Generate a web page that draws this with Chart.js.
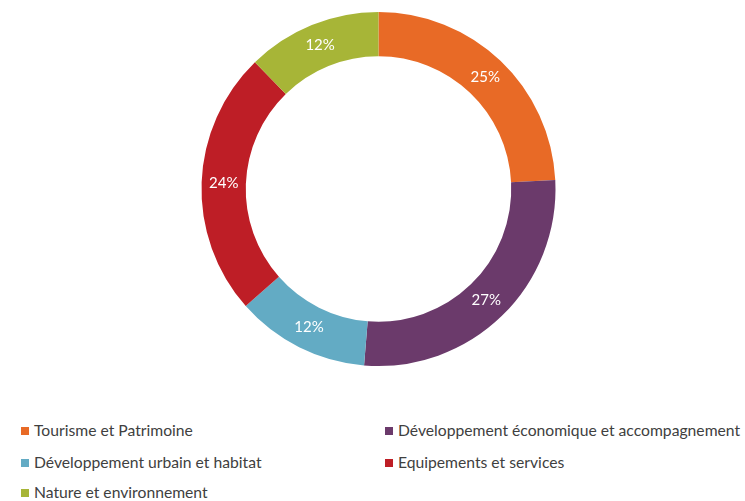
<!DOCTYPE html>
<html>
<head>
<meta charset="utf-8">
<script src="https://cdn.jsdelivr.net/npm/chart.js@4/dist/chart.umd.min.js"></script>
<style>
  body { margin: 0; background: #fff; width: 745px; height: 501px; overflow: hidden; }
  #wrap { position: absolute; left: 0; top: 0; width: 745px; height: 378px; }
  .leg { position: absolute; font-family: Lato, "Open Sans", sans-serif; font-size: 15.7px; color: #404040; white-space: nowrap; }
  .leg span.box { display: inline-block; width: 8px; height: 8px; margin-right: 5px; vertical-align: 1px; }
</style>
</head>
<body>
<div id="wrap"><canvas id="chart"></canvas></div>
<div id="legend"></div>
<script>
var categories = ["Tourisme et Patrimoine", "Développement économique et accompagnement", "Développement urbain et habitat", "Equipements et services", "Nature et environnement"];
// slice shares as drawn, and the percent text shown on each slice
var values = [24.2, 27.1, 12.2, 24.2, 12.3];
var pctLabels = ["25%", "27%", "12%", "24%", "12%"];
var colors = ["#E86A26", "#6B3A6B", "#63ABC4", "#BE1E26", "#A7B537"];

// legend positions in two columns (left, top)
var legendPos = [[21, 421], [385, 421], [21, 453], [385, 453], [21, 483]];

var legend = document.getElementById("legend");
for (var i = 0; i < categories.length; i++) {
    var d = document.createElement("div");
    d.className = "leg";
    d.style.left = legendPos[i][0] + "px";
    d.style.top = legendPos[i][1] + "px";
    d.innerHTML = '<span class="box" style="background:' + colors[i] + '"></span>' + categories[i];
    legend.appendChild(d);
}

var labelPlugin = {
    id: "pctLabels",
    afterDatasetsDraw: function (chart) {
        var ctx = chart.ctx;
        var meta = chart.getDatasetMeta(0);
        ctx.save();
        ctx.fillStyle = "#ffffff";
        ctx.font = '15px Lato, "Open Sans", sans-serif';
        ctx.textAlign = "center";
        ctx.textBaseline = "middle";
        meta.data.forEach(function (arc, i) {
            var p = arc.getCenterPoint();
            ctx.fillText(pctLabels[i], p.x, p.y);
        });
        ctx.restore();
    }
};

var ctx = document.getElementById("chart");
new Chart(ctx, {
    type: "doughnut",
    data: {
        labels: categories,
        datasets: [{
            data: values,
            backgroundColor: colors,
            borderWidth: 0
        }]
    },
    options: {
        responsive: true,
        maintainAspectRatio: false,
        animation: false,
        cutout: "75%",
        layout: { padding: { left: 12, top: 12, bottom: 12 } },
        plugins: {
            legend: { display: false },
            tooltip: { enabled: false }
        }
    },
    plugins: [labelPlugin]
});
</script>
</body>
</html>
